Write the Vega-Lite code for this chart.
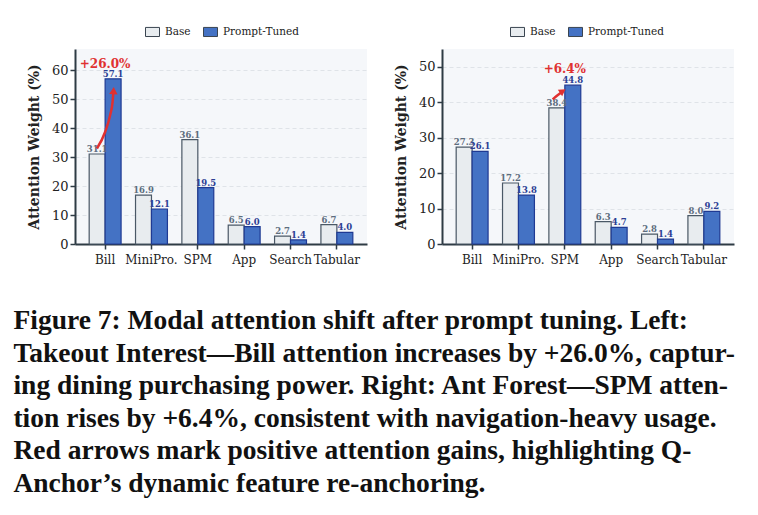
{
  "$schema": "https://vega.github.io/schema/vega-lite/v6.json",
  "background": "white",
  "padding": {"left": 13, "top": 24, "right": 5, "bottom": 10},
  "datasets": {
    "left": [
      {"cat": "Bill", "series": "Base", "value": 31.1},
      {"cat": "Bill", "series": "Prompt-Tuned", "value": 57.1},
      {"cat": "MiniPro.", "series": "Base", "value": 16.9},
      {"cat": "MiniPro.", "series": "Prompt-Tuned", "value": 12.1},
      {"cat": "SPM", "series": "Base", "value": 36.1},
      {"cat": "SPM", "series": "Prompt-Tuned", "value": 19.5},
      {"cat": "App", "series": "Base", "value": 6.5},
      {"cat": "App", "series": "Prompt-Tuned", "value": 6.0},
      {"cat": "Search", "series": "Base", "value": 2.7},
      {"cat": "Search", "series": "Prompt-Tuned", "value": 1.4},
      {"cat": "Tabular", "series": "Base", "value": 6.7},
      {"cat": "Tabular", "series": "Prompt-Tuned", "value": 4.0}
    ],
    "right": [
      {"cat": "Bill", "series": "Base", "value": 27.3},
      {"cat": "Bill", "series": "Prompt-Tuned", "value": 26.1},
      {"cat": "MiniPro.", "series": "Base", "value": 17.2},
      {"cat": "MiniPro.", "series": "Prompt-Tuned", "value": 13.8},
      {"cat": "SPM", "series": "Base", "value": 38.4},
      {"cat": "SPM", "series": "Prompt-Tuned", "value": 44.8},
      {"cat": "App", "series": "Base", "value": 6.3},
      {"cat": "App", "series": "Prompt-Tuned", "value": 4.7},
      {"cat": "Search", "series": "Base", "value": 2.8},
      {"cat": "Search", "series": "Prompt-Tuned", "value": 1.4},
      {"cat": "Tabular", "series": "Base", "value": 8.0},
      {"cat": "Tabular", "series": "Prompt-Tuned", "value": 9.2}
    ],
    "leftGain": [{"cat": "Bill", "value": 62.3, "label": "+26.0%"}],
    "rightGain": [{"cat": "SPM", "value": 49.4, "label": "+6.4%"}],
    "leftArrow": [
      {"ord": 1, "pos": 0.323, "value": 33.0},
      {"ord": 2, "pos": 0.502, "value": 38.8},
      {"ord": 3, "pos": 0.609, "value": 44.6},
      {"ord": 4, "pos": 0.661, "value": 49.1},
      {"ord": 5, "pos": 0.678, "value": 52.5}
    ],
    "leftHead": [{"pos": 0.682, "value": 53.0}],
    "rightArrow": [
      {"ord": 1, "pos": 2.237, "value": 40.8},
      {"ord": 2, "pos": 2.35, "value": 42.0},
      {"ord": 3, "pos": 2.44, "value": 42.9}
    ],
    "rightHead": [{"pos": 2.456, "value": 43.1}]
  },
  "title": {
    "text": [
      "Figure 7: Modal attention shift after prompt tuning. Left:",
      "Takeout Interest—Bill attention increases by +26.0%, captur-",
      "ing dining purchasing power. Right: Ant Forest—SPM atten-",
      "tion rises by +6.4%, consistent with navigation-heavy usage.",
      "Red arrows mark positive attention gains, highlighting Q-",
      "Anchor’s dynamic feature re-anchoring."
    ],
    "orient": "bottom",
    "anchor": "start",
    "font": "Liberation Serif",
    "fontSize": 27.5,
    "fontWeight": "bold",
    "color": "#111111",
    "lineHeight": 32.6,
    "offset": 42,
    "dx": -14
  },
  "config": {
    "view": {"fill": "#f5f7fa", "stroke": null},
    "axis": {
      "domainColor": "#2e3b44",
      "domainWidth": 2,
      "tickColor": "#2e3b44",
      "tickWidth": 1.5,
      "tickSize": 5,
      "labelFont": "DejaVu Serif",
      "labelFontSize": 13,
      "labelColor": "#222222",
      "titleFont": "DejaVu Serif",
      "titleFontSize": 14,
      "titleFontWeight": "bold",
      "titleColor": "#222222"
    },
    "axisY": {
      "tickCount": 6,
      "labelOverlap": false,
      "grid": true,
      "gridDash": [4, 3],
      "gridColor": "#d9dde3",
      "gridWidth": 0.8,
      "titlePadding": 10,
      "labelPadding": 2
    },
    "axisX": {
      "labelAngle": 0,
      "labelPadding": 5,
      "labelFontSize": 12
    },
    "legend": {
      "labelFont": "DejaVu Serif",
      "labelFontSize": 10.5,
      "labelColor": "#222222"
    }
  },
  "spacing": 27,
  "resolve": {"scale": {"fill": "independent", "y": "independent"}, "legend": {"fill": "independent"}},
  "hconcat": [
    {
      "width": 292,
      "height": 195,
      "resolve": {"scale": {"x": "independent"}},
      "layer": [
        {
          "data": {"name": "left"},
          "layer": [
            {
              "mark": {"type": "bar", "strokeWidth": 1.2},
              "encoding": {
                "x": {"field": "cat", "type": "nominal", "sort": ["Bill", "MiniPro.", "SPM", "App", "Search", "Tabular"],
                  "scale": {"domain": ["Bill", "MiniPro.", "SPM", "App", "Search", "Tabular"], "paddingInner": 0, "paddingOuter": 0.15},
                  "axis": {"title": null}},
                "xOffset": {"field": "series", "type": "nominal", "sort": ["Base", "Prompt-Tuned"], "scale": {"paddingInner": 0, "paddingOuter": 0.453}},
                "y": {"field": "value", "type": "quantitative", "scale": {"domain": [0, 67.4], "nice": false},
                  "title": "Attention Weight (%)"},
                "fill": {"field": "series", "type": "nominal", "sort": ["Base", "Prompt-Tuned"],
                  "scale": {"domain": ["Base", "Prompt-Tuned"], "range": ["#e8ecef", "#4472c4"]},
                  "legend": {"title": null, "orient": "none", "direction": "horizontal", "legendX": 70, "legendY": -25,
                    "symbolType": "M-1,-0.65H1V0.65H-1Z", "symbolSize": 196, "symbolStrokeColor": "#3a4550", "symbolStrokeWidth": 1,
                    "columnPadding": 10, "labelOffset": 5, "padding": 0}},
                "stroke": {"condition": {"test": "datum.series === 'Base'", "value": "#4a5866"}, "value": "#1f3a93"}
              }
            },
            {
              "mark": {"type": "text", "font": "DejaVu Serif", "fontWeight": "bold", "fontSize": 8.5, "baseline": "alphabetic", "dy": -2},
              "encoding": {
                "x": {"field": "cat", "type": "nominal", "sort": ["Bill", "MiniPro.", "SPM", "App", "Search", "Tabular"]},
                "xOffset": {"field": "series", "type": "nominal", "sort": ["Base", "Prompt-Tuned"]},
                "y": {"field": "value", "type": "quantitative", "title": "Attention Weight (%)"},
                "text": {"field": "value", "type": "quantitative", "format": ".1f"},
                "color": {"condition": {"test": "datum.series === 'Base'", "value": "#5d6d7e"}, "value": "#2c3e94"}
              }
            },
            {
              "data": {"name": "leftGain"},
              "mark": {"type": "text", "font": "DejaVu Serif", "fontWeight": "bold", "fontSize": 12, "color": "#e03131", "baseline": "middle"},
              "encoding": {
                "x": {"field": "cat", "type": "nominal", "sort": ["Bill", "MiniPro.", "SPM", "App", "Search", "Tabular"]},
                "y": {"field": "value", "type": "quantitative", "title": "Attention Weight (%)"},
                "text": {"field": "label"}
              }
            }
          ]
        },
        {
          "layer": [
            {
              "data": {"name": "leftArrow"},
              "mark": {"type": "line", "color": "#e03131", "strokeWidth": 2.5, "interpolate": "monotone"},
              "encoding": {
                "x": {"field": "pos", "type": "quantitative", "scale": {"domain": [-0.15, 6.15], "nice": false, "zero": false}, "axis": null},
                "y": {"field": "value", "type": "quantitative", "title": "Attention Weight (%)"},
                "order": {"field": "ord"}
              }
            },
            {
              "data": {"name": "leftHead"},
              "mark": {"type": "point", "shape": "triangle-up", "filled": true, "color": "#e03131", "opacity": 1, "size": 70, "angle": 3},
              "encoding": {
                "x": {"field": "pos", "type": "quantitative"},
                "y": {"field": "value", "type": "quantitative", "title": "Attention Weight (%)"}
              }
            }
          ]
        }
      ]
    },
    {
      "width": 292,
      "height": 195,
      "resolve": {"scale": {"x": "independent"}},
      "layer": [
        {
          "data": {"name": "right"},
          "layer": [
            {
              "mark": {"type": "bar", "strokeWidth": 1.2},
              "encoding": {
                "x": {"field": "cat", "type": "nominal", "sort": ["Bill", "MiniPro.", "SPM", "App", "Search", "Tabular"],
                  "scale": {"domain": ["Bill", "MiniPro.", "SPM", "App", "Search", "Tabular"], "paddingInner": 0, "paddingOuter": 0.15},
                  "axis": {"title": null}},
                "xOffset": {"field": "series", "type": "nominal", "sort": ["Base", "Prompt-Tuned"], "scale": {"paddingInner": 0, "paddingOuter": 0.453}},
                "y": {"field": "value", "type": "quantitative", "scale": {"domain": [0, 55], "nice": false},
                  "title": "Attention Weight (%)"},
                "fill": {"field": "series", "type": "nominal", "sort": ["Base", "Prompt-Tuned"],
                  "scale": {"domain": ["Base", "Prompt-Tuned"], "range": ["#e8ecef", "#4472c4"]},
                  "legend": {"title": null, "orient": "none", "direction": "horizontal", "legendX": 68, "legendY": -25,
                    "symbolType": "M-1,-0.65H1V0.65H-1Z", "symbolSize": 196, "symbolStrokeColor": "#3a4550", "symbolStrokeWidth": 1,
                    "columnPadding": 10, "labelOffset": 5, "padding": 0}},
                "stroke": {"condition": {"test": "datum.series === 'Base'", "value": "#4a5866"}, "value": "#1f3a93"}
              }
            },
            {
              "mark": {"type": "text", "font": "DejaVu Serif", "fontWeight": "bold", "fontSize": 8.5, "baseline": "alphabetic", "dy": -2},
              "encoding": {
                "x": {"field": "cat", "type": "nominal", "sort": ["Bill", "MiniPro.", "SPM", "App", "Search", "Tabular"]},
                "xOffset": {"field": "series", "type": "nominal", "sort": ["Base", "Prompt-Tuned"]},
                "y": {"field": "value", "type": "quantitative", "title": "Attention Weight (%)"},
                "text": {"field": "value", "type": "quantitative", "format": ".1f"},
                "color": {"condition": {"test": "datum.series === 'Base'", "value": "#5d6d7e"}, "value": "#2c3e94"}
              }
            },
            {
              "data": {"name": "rightGain"},
              "mark": {"type": "text", "font": "DejaVu Serif", "fontWeight": "bold", "fontSize": 12, "color": "#e03131", "baseline": "middle"},
              "encoding": {
                "x": {"field": "cat", "type": "nominal", "sort": ["Bill", "MiniPro.", "SPM", "App", "Search", "Tabular"]},
                "y": {"field": "value", "type": "quantitative", "title": "Attention Weight (%)"},
                "text": {"field": "label"}
              }
            }
          ]
        },
        {
          "layer": [
            {
              "data": {"name": "rightArrow"},
              "mark": {"type": "line", "color": "#e03131", "strokeWidth": 2.5, "interpolate": "monotone"},
              "encoding": {
                "x": {"field": "pos", "type": "quantitative", "scale": {"domain": [-0.15, 6.15], "nice": false, "zero": false}, "axis": null},
                "y": {"field": "value", "type": "quantitative", "title": "Attention Weight (%)"},
                "order": {"field": "ord"}
              }
            },
            {
              "data": {"name": "rightHead"},
              "mark": {"type": "point", "shape": "triangle-up", "filled": true, "color": "#e03131", "opacity": 1, "size": 60, "angle": 56},
              "encoding": {
                "x": {"field": "pos", "type": "quantitative"},
                "y": {"field": "value", "type": "quantitative", "title": "Attention Weight (%)"}
              }
            }
          ]
        }
      ]
    }
  ]
}
